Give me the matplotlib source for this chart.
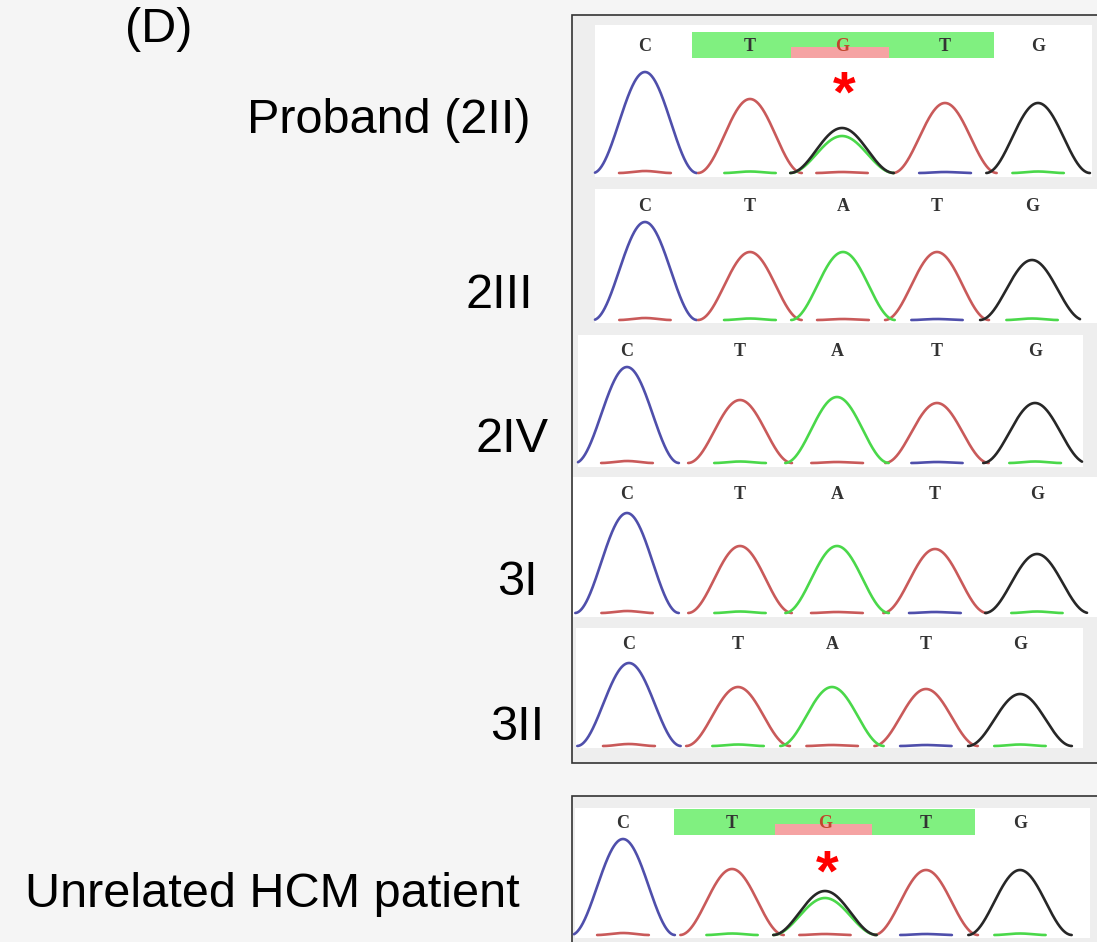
import numpy as np
import matplotlib
matplotlib.use('Agg')
import matplotlib.pyplot as plt
from matplotlib.patches import Rectangle

W, H = 1097, 942

# colours of the four dye channels
colours = {'C': '#4f4fab', 'T': '#c95a5a', 'A': '#4ad84a', 'G': '#272727'}

# sample labels
samples = ['Proband (2II)', '2III', '2IV', '3I', '3II', 'Unrelated HCM patient']

# base calls per sample
calls_mut = ['C', 'T', 'G', 'T', 'G']
calls_wt = ['C', 'T', 'A', 'T', 'G']
calls = [calls_mut, calls_wt, calls_wt, calls_wt, calls_wt, calls_mut]

# peak centres (scan position) and peak heights
pos_2II = [645, 750, 842, 945, 1038]
hgt_2II = [101, 74, 45, 70, 70]
pos_2III = [645, 750, 843, 937, 1032]
hgt_2III = [98, 68, 68, 68, 60]
pos_2IV = [627, 740, 837, 937, 1035]
hgt_2IV = [96, 63, 66, 60, 60]
pos_3I = [627, 740, 837, 935, 1037]
hgt_3I = [100, 67, 67, 64, 59]
pos_3II = [629, 738, 832, 926, 1020]
hgt_3II = [83, 59, 59, 57, 52]
pos_hcm = [623, 732, 825, 926, 1020]
hgt_hcm = [96, 66, 44, 65, 65]
positions = [pos_2II, pos_2III, pos_2IV, pos_3I, pos_3II, pos_hcm]
heights = [hgt_2II, hgt_2III, hgt_2IV, hgt_3I, hgt_3II, hgt_hcm]

# second (A) peak under the heterozygous G call: (sample index, height)
het_A = {0: 37, 5: 37}

# small baseline signal under each peak
noise_calls = ['T', 'A', 'T', 'C', 'A']
noise_hgt = [2.0, 1.5, 1.0, 1.0, 1.5]

# ---- layout in pixels ----
white = [(595, 25, 1092, 177), (595, 189, 1097, 323), (578, 335, 1083, 467),
         (573, 477, 1097, 617), (576, 628, 1083, 748), (575, 808, 1090, 938)]
baseline = [173, 320, 463, 613, 746, 935]
trace_x = [(595, 1092), (595, 1080), (578, 1082), (574, 1087), (576, 1082), (574, 1078)]
letter_y = [51, 211, 356, 499, 649, 828]
label_xy = [(247, 133), (466, 308), (475, 452), (497, 595), (490, 740), (25, 907)]
star_y = {0: 112, 5: 891}
half_w = 52

def profile(x, c, h, w):
    d = np.abs(x - c)
    return np.where(d < w, h * np.cos(np.pi * d / (2 * w)) ** 2, 0.0)

fig = plt.figure(figsize=(W / 100, H / 100), dpi=100)
fig.patch.set_facecolor('#f5f5f5')
bg = fig.add_axes([0, 0, 1, 1])
bg.set_xlim(0, W)
bg.set_ylim(H, 0)
bg.axis('off')

# boxes
bg.add_patch(Rectangle((572, 15), 540, 748, facecolor='#eeeeee', edgecolor='#333333', lw=1.2, zorder=1))
bg.add_patch(Rectangle((572, 796), 540, 160, facecolor='#eeeeee', edgecolor='#333333', lw=1.2, zorder=1))
for (x0, y0, x1, y1) in white:
    bg.add_patch(Rectangle((x0, y0), x1 - x0, y1 - y0, facecolor='white', edgecolor='none', zorder=2))

for i, name in enumerate(samples):
    pos, hgt, cl = positions[i], heights[i], calls[i]
    # highlight bands for the mutated sequence
    if cl is calls_mut:
        sp = (pos[3] - pos[1]) / 2
        yb = letter_y[i]
        bg.add_patch(Rectangle((pos[1] - 0.6 * sp, yb - 19), pos[3] - pos[1] + 1.1 * sp, 26,
                               facecolor='#80f080', edgecolor='none', zorder=3))
        bg.add_patch(Rectangle((pos[2] - 0.52 * sp, yb - 4), 1.0 * sp, 11,
                               facecolor='#f5a3a3', edgecolor='none', zorder=3))
        bg.text(pos[2] + 2, star_y[i], '*', color='red', fontsize=42, fontweight='bold',
                family='Liberation Sans', ha='center', va='baseline', zorder=6)
    for k, b in enumerate(cl):
        col = '#c0462c' if (cl is calls_mut and k == 2) else '#333333'
        bg.text(pos[k], letter_y[i], b, color=col, fontsize=13, fontweight='bold',
                family='Liberation Serif', ha='center', va='baseline', zorder=5)
    bg.text(label_xy[i][0], label_xy[i][1], name, fontsize=35, family='Liberation Sans',
            ha='left', va='baseline', color='black', zorder=5)

    # trace axes: y in pixels above baseline
    x0, x1 = trace_x[i]
    lo, hi = -4, 108
    ax = fig.add_axes([x0 / W, (H - baseline[i] + lo) / H, (x1 - x0) / W, (hi - lo) / H])
    ax.set_xlim(x0, x1)
    ax.set_ylim(lo, hi)
    ax.axis('off')
    ax.patch.set_alpha(0)
    x = np.linspace(x0, x1, 1200)
    sig = {c: np.zeros_like(x) for c in 'CTAG'}
    for k, b in enumerate(cl):
        sig[b] += profile(x, pos[k], hgt[k], half_w)
        sig[noise_calls[k]] += profile(x, pos[k], noise_hgt[k], 26)
    if i in het_A:
        sig['A'] += profile(x, pos[2], het_A[i], half_w)
    for c in ['C', 'T', 'A', 'G']:
        y = np.where(sig[c] > 0, sig[c], np.nan)
        ax.plot(x, y, color=colours[c], lw=1.9, solid_capstyle='round', clip_on=False)

bg.text(125, 42, '(D)', fontsize=35, family='Liberation Sans', ha='left', va='baseline', color='black')

fig.savefig('out.png', dpi=100, facecolor=fig.get_facecolor())
